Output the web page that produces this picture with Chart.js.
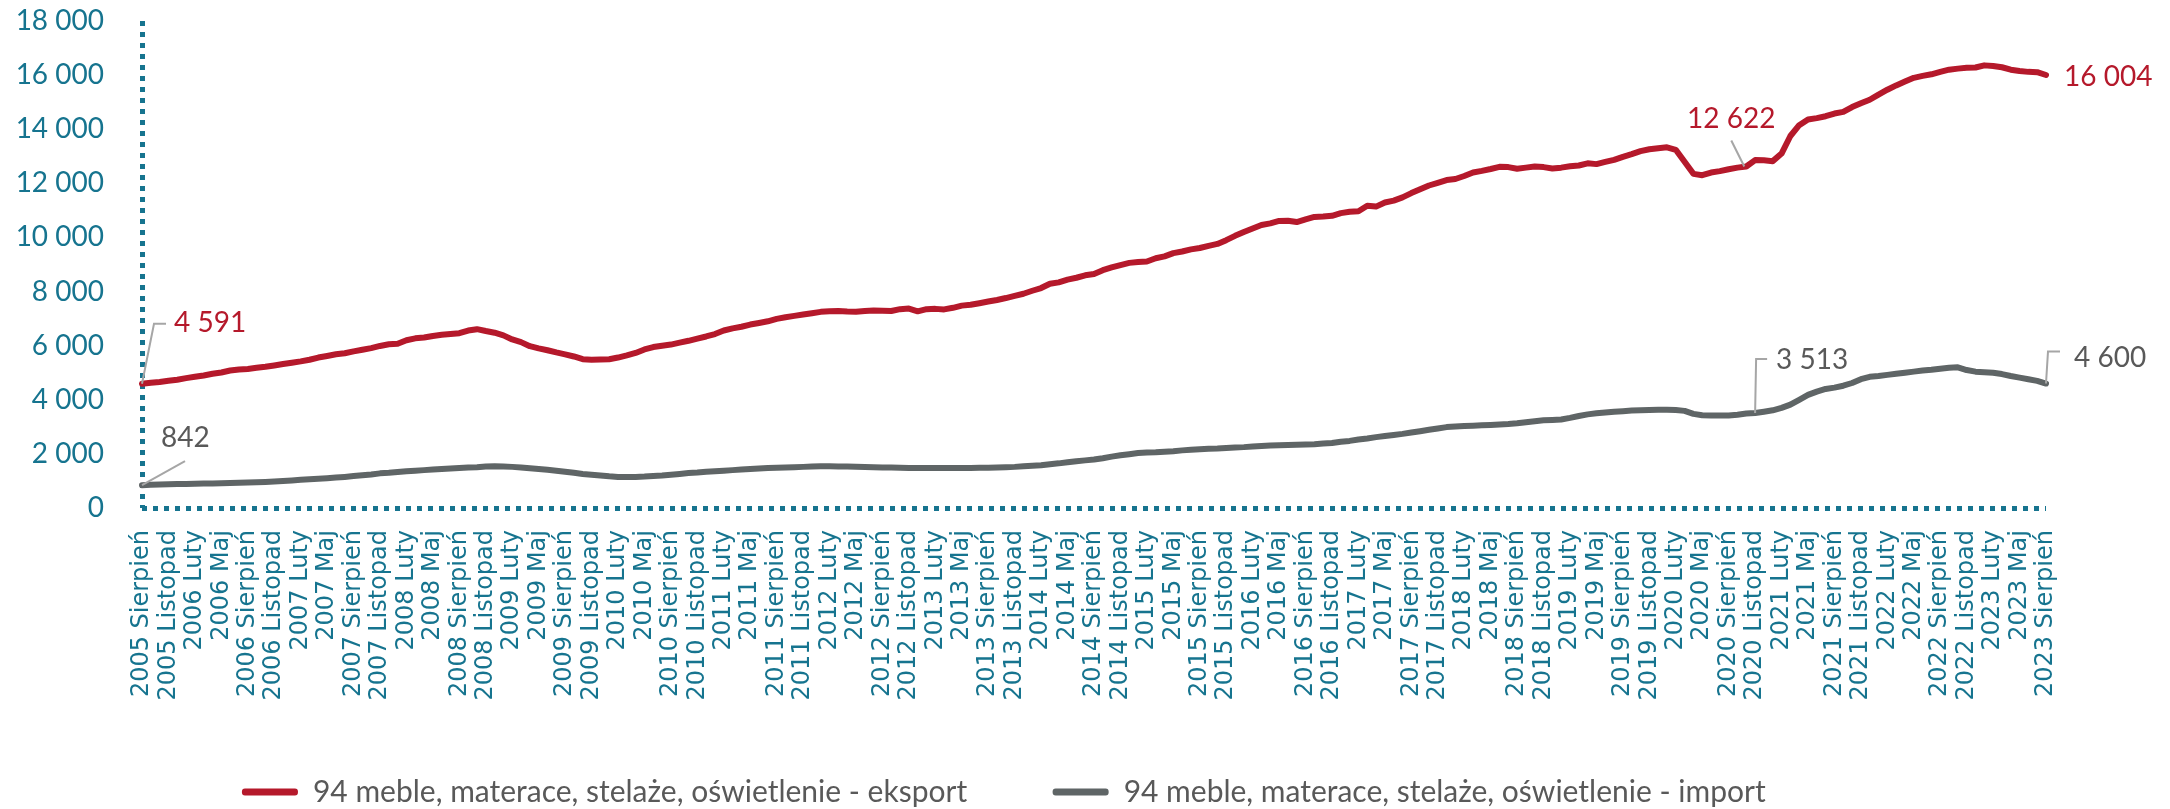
<!DOCTYPE html>
<html>
<head>
<meta charset="utf-8">
<script src="https://cdn.jsdelivr.net/npm/chart.js@4"></script>
<style>
  body { margin: 0; background: #ffffff; }
  #wrap { width: 2170px; height: 809px; }
</style>
</head>
<body>
<div id="wrap"><canvas id="myChart" width="2170" height="809"></canvas></div>
<script>
// monthly series, 2005 Sierpień .. 2023 Sierpień
const monthNames = ['Styczeń', 'Luty', 'Marzec', 'Kwiecień', 'Maj', 'Czerwiec', 'Lipiec',
  'Sierpień', 'Wrzesień', 'Październik', 'Listopad', 'Grudzień'];
const startYear = 2005;
const startMonth = 7; // Sierpień

const exportValues = [
  4591, 4630, 4660, 4700, 4740,
  4800, 4850, 4900, 4960, 5010, 5080, 5120, 5140, 5180, 5220, 5270, 5320,
  5370, 5420, 5480, 5560, 5620, 5680, 5720, 5790, 5850, 5910, 5990, 6050,
  6070, 6200, 6270, 6300, 6360, 6400, 6430, 6460, 6560, 6610, 6540, 6480,
  6380, 6230, 6130, 5980, 5900, 5830, 5750, 5680, 5600, 5500, 5480, 5490,
  5500, 5560, 5640, 5730, 5860, 5950, 6000, 6040, 6110, 6180, 6260, 6340,
  6430, 6560, 6640, 6700, 6780, 6840, 6900, 6990, 7050, 7100, 7150, 7200,
  7250, 7270, 7280, 7260, 7250, 7280, 7300, 7290, 7280, 7350, 7370, 7270,
  7350, 7360, 7340, 7400, 7480, 7510, 7570, 7630, 7690, 7760, 7840, 7920,
  8030, 8130, 8290, 8340, 8440, 8510, 8600, 8650, 8790, 8890, 8980, 9060,
  9090, 9110, 9230, 9300, 9420, 9480, 9560, 9610, 9690, 9760, 9900, 10060,
  10200, 10330, 10460, 10520, 10610, 10620, 10570, 10670, 10760, 10770, 10800, 10900,
  10950, 10970, 11170, 11140, 11290, 11360, 11480, 11640, 11780, 11920, 12020, 12120,
  12160, 12270, 12400, 12460, 12530, 12610, 12600, 12540, 12580, 12620, 12600, 12550,
  12580, 12630, 12660, 12740, 12710, 12790, 12870, 12980, 13080, 13190, 13260, 13300,
  13330, 13240, 12800, 12350, 12300, 12400, 12450, 12520, 12580, 12622, 12860, 12850,
  12820, 13100, 13750, 14150, 14360, 14410, 14480, 14580, 14640, 14820, 14960, 15090,
  15280, 15460, 15620, 15760, 15900, 15970, 16030, 16120, 16200, 16240, 16270, 16280,
  16360, 16340, 16290, 16200, 16150, 16120, 16110, 16004
];

const importValues = [
  842, 855, 865, 875, 885,
  890, 900, 905, 910, 915, 925, 935, 940, 950, 965, 980, 1000,
  1020, 1040, 1060, 1080, 1100, 1125, 1150, 1180, 1210, 1240, 1280, 1300,
  1330, 1360, 1380, 1400, 1420, 1440, 1460, 1480, 1500, 1510, 1530, 1540,
  1530, 1520, 1500, 1470, 1440, 1410, 1380, 1340, 1300, 1260, 1230, 1200,
  1170, 1150, 1150, 1150, 1160, 1180, 1200, 1230, 1260, 1290, 1310, 1340,
  1360, 1380, 1400, 1420, 1440, 1460, 1480, 1490, 1500, 1510, 1520, 1530,
  1540, 1540, 1535, 1530, 1525, 1520, 1510, 1500, 1495, 1490, 1480, 1478,
  1475, 1475, 1475, 1476, 1478, 1480, 1485, 1490, 1500, 1510, 1520, 1540,
  1560, 1580, 1620, 1650, 1690, 1730, 1760, 1790, 1840, 1900, 1950, 1990,
  2030, 2050, 2060, 2080, 2100, 2130, 2150, 2170, 2190, 2200, 2220, 2240,
  2250, 2270, 2290, 2310, 2320, 2330, 2340, 2350, 2360, 2380, 2400, 2450,
  2480, 2530, 2570, 2620, 2660, 2700, 2740, 2790, 2840, 2890, 2940, 2990,
  3010, 3030, 3040, 3055, 3070, 3090, 3105, 3130, 3170, 3210, 3240, 3255,
  3270, 3330, 3400, 3460, 3500, 3530, 3560, 3580, 3600, 3610, 3620, 3630,
  3630, 3620, 3590, 3480, 3430, 3420, 3415, 3420, 3450, 3490, 3513, 3560,
  3610, 3700, 3820, 4000, 4180, 4300, 4400, 4450, 4520, 4620, 4760, 4850,
  4880, 4920, 4960, 5000, 5040, 5080, 5110, 5150, 5180, 5200, 5100, 5040,
  5020, 5000, 4950, 4880, 4820, 4760, 4700, 4600
];

const seriesNames = [
  '94 meble, materace, stelaże, oświetlenie - eksport',
  '94 meble, materace, stelaże, oświetlenie - import'
];

const yTicks = [0, 2000, 4000, 6000, 8000, 10000, 12000, 14000, 16000, 18000];

// categories built from the month names
const labels = exportValues.map((v, i) => {
  const m = startMonth + i;
  return (startYear + Math.floor(m / 12)) + ' ' + monthNames[m % 12];
});

const teal = '#16748f';
const red = '#b5192b';
const grey = '#5f6566';
const none = 'rgba(0,0,0,0)';

function fmt(v) {
  return String(v).replace(/\B(?=(\d{3})+(?!\d))/g, ' ');
}

// which points get a value label, and where the label sits relative to the point
const notes = [
  { ds: 0, idx: 0, dx: 32, dy: -61, align: 'left', leader: [[0, 0], [12, -60], [24, -60]] },
  { ds: 1, idx: 0, dx: 19, dy: -47, align: 'left', leader: [[0, 0], [43, -24]] },
  { ds: 0, idx: 182, dx: -15, dy: -48, align: 'center', leader: [[-2, 0], [-15, -26]] },
  { ds: 1, idx: 183, dx: 21, dy: -53, align: 'left', leader: [[0, 0], [1, -54], [12, -54]] },
  { ds: 0, idx: 216, dx: 18, dy: 2, align: 'left', leader: null },
  { ds: 1, idx: 216, dx: 28, dy: -26, align: 'left', leader: [[0, 0], [2, -32], [14, -32]] }
];

const noteLabels = {
  id: 'noteLabels',
  afterDatasetsDraw(chart) {
    const ctx = chart.ctx;
    ctx.save();
    notes.forEach(n => {
      const pt = chart.getDatasetMeta(n.ds).data[n.idx];
      const ds = chart.data.datasets[n.ds];
      if (n.leader) {
        ctx.beginPath();
        ctx.strokeStyle = '#a6a6a6';
        ctx.lineWidth = 2;
        n.leader.forEach((p, k) => {
          if (k === 0) ctx.moveTo(pt.x + p[0], pt.y + p[1]);
          else ctx.lineTo(pt.x + p[0], pt.y + p[1]);
        });
        ctx.stroke();
      }
      ctx.font = '28px Lato';
      ctx.fillStyle = n.ds === 0 ? red : '#595959';
      ctx.textAlign = n.align;
      ctx.textBaseline = 'middle';
      ctx.fillText(fmt(ds.data[n.idx]), pt.x + n.dx, pt.y + n.dy);
    });
    ctx.restore();
  }
};

const ctx = document.getElementById('myChart').getContext('2d');
const myChart = new Chart(ctx, {
  type: 'line',
  data: {
    labels: labels,
    datasets: [{
      label: seriesNames[0],
      data: exportValues,
      borderColor: red,
      backgroundColor: red,
      borderWidth: 6,
      pointRadius: 0,
      tension: 0,
      borderCapStyle: 'round',
      borderJoinStyle: 'round'
    }, {
      label: seriesNames[1],
      data: importValues,
      borderColor: grey,
      backgroundColor: grey,
      borderWidth: 6,
      pointRadius: 0,
      tension: 0,
      borderCapStyle: 'round',
      borderJoinStyle: 'round'
    }]
  },
  options: {
    responsive: false,
    animation: false,
    devicePixelRatio: 1,
    layout: { padding: { top: 21, right: 124, left: 0, bottom: -8 } },
    scales: {
      x: {
        // only the first vertical grid line is shown: it is the dotted value axis
        grid: {
          display: true,
          drawTicks: false,
          lineWidth: 5,
          color: c => (c.index === 0 ? teal : none)
        },
        border: { display: false, dash: [5, 6] },
        ticks: {
          autoSkip: false,
          maxRotation: 90,
          minRotation: 90,
          padding: 22,
          color: teal,
          font: { family: 'DejaVu Sans', size: 24 },
          callback: function (val, idx) {
            return idx % 3 === 0 ? labels[idx] : '';
          }
        },
        afterFit: function (scale) { scale.height = 268; }
      },
      y: {
        min: 0,
        max: 18000,
        afterBuildTicks: function (scale) {
          scale.ticks = yTicks.map(v => ({ value: v }));
        },
        // only the zero line is shown: it is the dotted category axis
        grid: {
          display: true,
          drawTicks: false,
          lineWidth: 5,
          color: c => (c.tick && c.tick.value === 0 ? teal : none)
        },
        border: { display: false, dash: [5, 6] },
        ticks: {
          padding: 38,
          color: teal,
          font: { family: 'Lato', size: 28 },
          callback: function (v) { return fmt(v); }
        },
        afterFit: function (scale) {
          scale.width = 142;
          scale.paddingTop = 0;
          scale.paddingBottom = 0;
        }
      }
    },
    plugins: {
      tooltip: { enabled: false },
      legend: {
        display: true,
        position: 'bottom',
        labels: {
          color: '#595959',
          font: { family: 'Lato', size: 30 },
          boxWidth: 56,
          boxHeight: 7,
          padding: 1,
          useBorderRadius: true,
          borderRadius: 3,
          generateLabels: function (chart) {
            return chart.data.datasets.map((d, i) => ({
              text: d.label + (i === 0 ? '           ' : '     '),
              fillStyle: d.borderColor,
              strokeStyle: d.borderColor,
              lineWidth: 0,
              borderRadius: 3,
              fontColor: '#595959',
              hidden: false,
              datasetIndex: i
            }));
          }
        }
      }
    }
  },
  plugins: [noteLabels]
});
</script>
</body>
</html>
